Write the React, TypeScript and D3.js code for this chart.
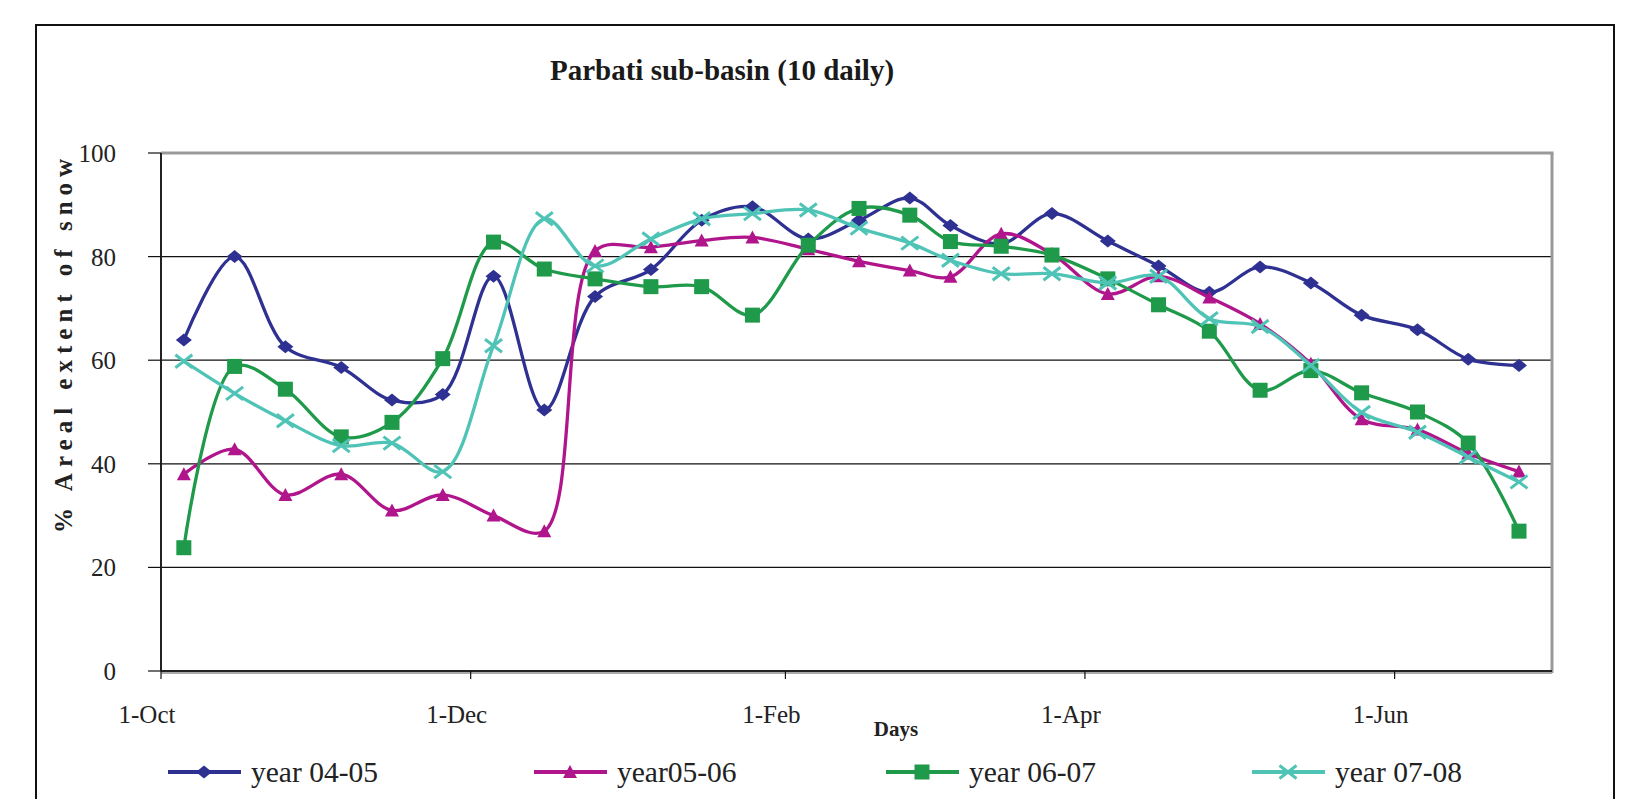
import React from "react";
import * as d3 from "d3";

const dateStrings = [
  "2006-10-05", "2006-10-15", "2006-10-25",
  "2006-11-05", "2006-11-15", "2006-11-25",
  "2006-12-05", "2006-12-15", "2006-12-25",
  "2007-01-05", "2007-01-15", "2007-01-25",
  "2007-02-05", "2007-02-15", "2007-02-25",
  "2007-03-05", "2007-03-15", "2007-03-25",
  "2007-04-05", "2007-04-15", "2007-04-25",
  "2007-05-05", "2007-05-15", "2007-05-25",
  "2007-06-05", "2007-06-15", "2007-06-25",
];

const year0405 = [63.9, 80, 62.6, 58.6, 52.3, 53.4, 76.2, 50.4, 72.3, 77.5, 87, 89.6, 83.4, 87, 91.3, 86, 82.5, 88.3, 83, 78.2, 73.1, 78, 74.9, 68.7, 65.9, 60.2, 59];
const year0506 = [38, 42.8, 34, 38, 31, 34, 30, 27, 81.1, 81.8, 83.1, 83.7, 81.4, 79.1, 77.3, 76.1, 84.4, 80.5, 72.8, 76.2, 72.1, 67, 59.3, 48.6, 46.6, 42, 38.5];
const year0607 = [23.8, 58.8, 54.4, 45.2, 48, 60.3, 82.8, 77.6, 75.7, 74.2, 74.2, 68.7, 82.2, 89.3, 88, 82.9, 82, 80.3, 75.7, 70.7, 65.6, 54.2, 58, 53.7, 50, 44, 27];
const year0708 = [59.8, 53.6, 48.3, 43.5, 44, 38.5, 62.8, 87.3, 78.2, 83.4, 87.3, 88.3, 89, 85.5, 82.6, 79.3, 76.7, 76.7, 74.9, 76.2, 68, 66.5, 59, 49.9, 46.1, 41.3, 36.5];

const seriesNames = ["year 04-05", "year05-06", "year 06-07", "year 07-08"];
const seriesColors = ["#2E3192", "#B0158C", "#1E9A4A", "#4FC4B6"];
const seriesMarkers = ["diamond", "triangle", "square", "cross"];

const xTickStrings = ["2006-10-01", "2006-12-01", "2007-02-01", "2007-04-01", "2007-06-01"];
const yTicks = [0, 20, 40, 60, 80, 100];
const xDomainStrings = ["2006-10-01", "2007-07-02"];

const titleText = "Parbati sub-basin (10 daily)";
const yTitle = "% Areal extent of snow";
const xTitle = "Days";

const W = 1625;
const H = 799;
const plot = { left: 161, top: 153, right: 1552, bottom: 671 };
const serif = "'Liberation Serif', 'Times New Roman', serif";

function Marker({ kind, x, y, color }: { kind: string; x: number; y: number; color: string }) {
  if (kind === "diamond") {
    return <path d={`M${x - 8},${y} L${x},${y - 6.5} L${x + 8},${y} L${x},${y + 6.5} Z`} fill={color} />;
  }
  if (kind === "triangle") {
    return <path d={`M${x - 7},${y + 6} L${x},${y - 7} L${x + 7},${y + 6} Z`} fill={color} />;
  }
  if (kind === "square") {
    return <rect x={x - 7.5} y={y - 7.5} width={15} height={15} fill={color} />;
  }
  return (
    <g stroke={color} strokeWidth={3}>
      <line x1={x - 8.5} y1={y - 6.5} x2={x + 8.5} y2={y + 6.5} />
      <line x1={x - 8.5} y1={y + 6.5} x2={x + 8.5} y2={y - 6.5} />
    </g>
  );
}

export default function App() {
  const parse = d3.timeParse("%Y-%m-%d");
  const dates = dateStrings.map((s) => d3.timeHour.offset(parse(s) as Date, 12));
  const xTicks = xTickStrings.map((s) => parse(s) as Date);
  const x = d3
    .scaleTime()
    .domain(xDomainStrings.map((s) => parse(s) as Date))
    .range([plot.left, plot.right]);
  const y = d3.scaleLinear().domain([0, 100]).range([plot.bottom, plot.top]);
  const fmt = d3.timeFormat("%-d-%b");
  const series = [year0405, year0506, year0607, year0708];
  const line = d3
    .line<number>()
    .x((_, i) => x(dates[i]))
    .y((d) => y(d))
    .curve(d3.curveCatmullRom.alpha(0.5));

  const legendX = [168, 534, 886, 1252];
  const legendY = 772;

  return (
    <div style={{ position: "absolute", left: 0, top: 0, width: W, height: H, background: "#fff" }}>
      <svg width={W} height={H} style={{ display: "block" }}>
        <rect x={0} y={0} width={W} height={H} fill="#fff" />
        <rect x={36} y={25} width={1578} height={820} fill="none" stroke="#111" strokeWidth={2} />

        <text x={550} y={80} fontFamily={serif} fontWeight="bold" fontSize={29} fill="#1a1a1a">
          {titleText}
        </text>

        {yTicks.filter((t) => t > 0 && t < 100).map((t) => (
          <line key={t} x1={plot.left} x2={plot.right} y1={y(t)} y2={y(t)} stroke="#111" strokeWidth={1.2} />
        ))}

        <line x1={plot.left} x2={plot.right + 1.5} y1={plot.top} y2={plot.top} stroke="#999" strokeWidth={3} />
        <line x1={plot.right} x2={plot.right} y1={plot.top} y2={plot.bottom + 2} stroke="#999" strokeWidth={3} />
        <line x1={plot.left} x2={plot.right} y1={plot.bottom + 2} y2={plot.bottom + 2} stroke="#aaa" strokeWidth={2} />
        <line x1={plot.left} x2={plot.left} y1={plot.top} y2={plot.bottom} stroke="#222" strokeWidth={2} />
        <line x1={plot.left} x2={plot.right} y1={plot.bottom} y2={plot.bottom} stroke="#222" strokeWidth={2} />

        {yTicks.map((t) => (
          <g key={t}>
            <line x1={plot.left - 13} x2={plot.left} y1={y(t)} y2={y(t)} stroke="#111" strokeWidth={1.2} />
            <text x={116} y={y(t) + 9} textAnchor="end" fontFamily={serif} fontSize={25} fill="#222">
              {t}
            </text>
          </g>
        ))}

        {xTicks.map((d, i) => (
          <g key={i}>
            <line x1={x(d)} x2={x(d)} y1={plot.bottom} y2={plot.bottom + 8} stroke="#111" strokeWidth={1.2} />
            <text x={x(d) - 14} y={723} textAnchor="middle" fontFamily={serif} fontSize={25} fill="#222">
              {fmt(d)}
            </text>
          </g>
        ))}

        <text x={896} y={736} textAnchor="middle" fontFamily={serif} fontWeight="bold" fontSize={21} fill="#222">
          {xTitle}
        </text>

        <text
          transform={`translate(72, 533) rotate(-90)`}
          fontFamily={serif}
          fontWeight="bold"
          fontSize={25}
          letterSpacing={6}
          fill="#222"
        >
          {yTitle}
        </text>

        {series.map((vals, si) => (
          <g key={si}>
            <path d={line(vals) || ""} fill="none" stroke={seriesColors[si]} strokeWidth={3.3} strokeLinejoin="round" />
            {vals.map((v, i) => (
              <Marker key={i} kind={seriesMarkers[si]} x={x(dates[i])} y={y(v)} color={seriesColors[si]} />
            ))}
          </g>
        ))}

        {seriesNames.map((name, si) => (
          <g key={name}>
            <line x1={legendX[si]} x2={legendX[si] + 73} y1={legendY} y2={legendY} stroke={seriesColors[si]} strokeWidth={4} />
            <Marker kind={seriesMarkers[si]} x={legendX[si] + 36} y={legendY} color={seriesColors[si]} />
            <text x={legendX[si] + 83} y={legendY + 10} fontFamily={serif} fontSize={29.5} fill="#222">
              {name}
            </text>
          </g>
        ))}
      </svg>
    </div>
  );
}
